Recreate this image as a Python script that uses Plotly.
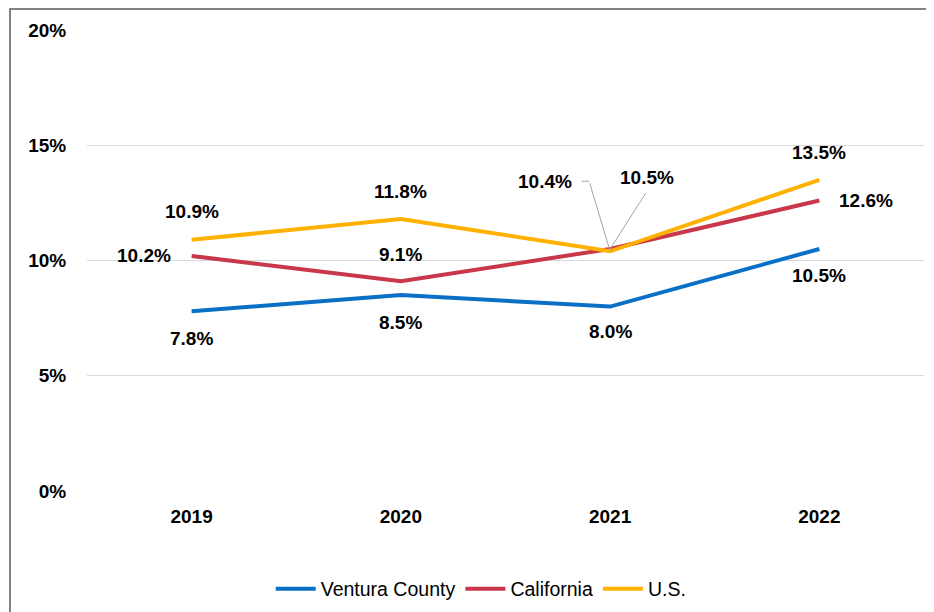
import plotly.graph_objects as go

years = ["2019", "2020", "2021", "2022"]
ventura = [7.8, 8.5, 8.0, 10.5]
california = [10.2, 9.1, 10.5, 12.6]
us = [10.9, 11.8, 10.4, 13.5]
y_ticks = [0, 5, 10, 15, 20]
y_tick_labels = ["0%", "5%", "10%", "15%", "20%"]

colors = {"Ventura County": "#0A70C6", "California": "#C8374A", "U.S.": "#FFB100"}
FONT = "Liberation Sans, Arial, sans-serif"
OFF = 8  # page body margin

fig = go.Figure()
for name, vals in [("Ventura County", ventura), ("California", california), ("U.S.", us)]:
    fig.add_trace(go.Scatter(x=years, y=vals, mode="lines", name=name,
                             line=dict(color=colors[name], width=4)))

# label offsets (pixels) per series/point
offsets = {
    "Ventura County": [(0, -27), (0, -27), (0, -25), (0, -27)],
    "California": [(-48, 0), (0, 27), (37, 71), (47, 0)],
    "U.S.": [(0, 28), (0, 28), (-65, 70), (0, 27)],
}
for name, vals in [("Ventura County", ventura), ("California", california), ("U.S.", us)]:
    for i, v in enumerate(vals):
        dx, dy = offsets[name][i]
        fig.add_annotation(x=i, y=v, xref="x", yref="y", text=f"<b>{v:.1f}%</b>",
                           showarrow=False, xshift=dx, yshift=dy,
                           font=dict(family=FONT, size=19, color="#000000"))

# leader lines for the crowded 2021 labels
lead = dict(showarrow=True, arrowhead=0, arrowwidth=1, arrowcolor="#A6A6A6",
            text=" ", font=dict(size=1), standoff=0, startstandoff=0)
fig.add_annotation(x=2, y=us[2], xref="x", yref="y", ax=-21, ay=-70, **lead)
fig.add_annotation(x=2, y=us[2], xref="x", yref="y", xshift=-21, yshift=70, ax=-9, ay=0, **lead)
fig.add_annotation(x=2, y=california[2], xref="x", yref="y", ax=37, ay=-58, **lead)

# outer chart border (left & top visible)
L, T = 87 - OFF, 30 - OFF
W, H = 837, 461
fig.add_shape(type="rect", xref="paper", yref="paper",
              x0=(10 - OFF - L) / W, x1=(960 - L) / W,
              y0=-(640 - T - H) / H, y1=(T + H - 1) / H,
              line=dict(color="#595959", width=1.5), layer="above")

fig.update_layout(
    width=934 - OFF, height=612 - OFF,
    margin=dict(l=L, r=934 - OFF - L - W, t=T, b=612 - OFF - T - H, autoexpand=False),
    paper_bgcolor="white", plot_bgcolor="white",
    font=dict(family=FONT, color="#000"),
    showlegend=True,
    legend=dict(orientation="h", x=0.471, xanchor="center", y=-0.213, yanchor="middle",
                font=dict(family=FONT, size=19.5, color="#000"), itemwidth=40,
                traceorder="normal"),
    xaxis=dict(type="category", range=[-0.5, 3.5], showgrid=False, zeroline=False,
               showline=False, ticks="outside", ticklen=8, tickcolor="rgba(0,0,0,0)",
               tickfont=dict(family=FONT, size=19, color="#000", weight="bold")),
    yaxis=dict(range=[0, 20], tickvals=y_ticks, ticktext=y_tick_labels,
               showgrid=True, gridcolor="#D9D9D9", gridwidth=1, zeroline=False,
               showline=False, ticks="outside", ticklen=16, tickcolor="rgba(0,0,0,0)",
               tickfont=dict(family=FONT, size=19, color="#000", weight="bold")),
)

fig.write_html("out.html")
